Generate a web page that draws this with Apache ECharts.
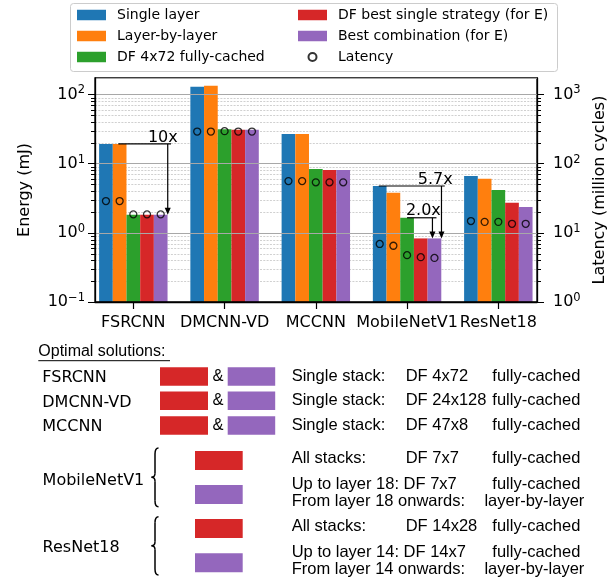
<!DOCTYPE html>
<html><head><meta charset="utf-8">
<script src="https://cdn.jsdelivr.net/npm/echarts@6/dist/echarts.min.js"></script>
<style>html,body{margin:0;padding:0;background:#fff}#c{width:616px;height:580px}</style>
</head><body><div id="c"></div>
<script>
// ---------------- data ----------------
const categories = ['FSRCNN', 'DMCNN-VD', 'MCCNN', 'MobileNetV1', 'ResNet18'];
const seriesNames = ['Single layer', 'Layer-by-layer', 'DF 4x72 fully-cached',
  'DF best single strategy (for E)', 'Best combination (for E)'];
const latencyName = 'Latency';
// Energy (mJ)
const energySingleLayer   = [19.3, 129, 26.9, 4.75, 6.63];
const energyLayerByLayer  = [19.3, 134, 26.9, 3.80, 6.07];
const energyDF4x72        = [1.83, 31.5, 8.4, 1.65, 4.16];
const energyDFBest        = [1.83, 30.8, 8.1, 0.83, 2.72];
const energyBestComb      = [1.83, 31.0, 8.1, 0.83, 2.36];
// Latency (million cycles)
const latencySingleLayer  = [28.8, 291, 56, 6.9, 14.8];
const latencyLayerByLayer = [28.8, 291, 56, 6.5, 14.4];
const latencyDF4x72       = [18.5, 295, 53.7, 4.75, 14.4];
const latencyDFBest       = [18.5, 291, 53.7, 4.45, 13.5];
const latencyBestComb     = [18.5, 291, 53.7, 4.34, 13.5];
// axes
const energyTicks = [0.1, 1, 10, 100];
const latencyTicks = [1, 10, 100, 1000];
const energyName = 'Energy (mJ)';
const latencyAxisName = 'Latency (million cycles)';
// annotations
const annotationLabels = ['10x', '5.7x', '2.0x'];
// optimal-solutions table
const tableTitle = 'Optimal solutions:';
const tableSimpleNames = ['FSRCNN', 'DMCNN-VD', 'MCCNN'];
const tableSimpleTiles = ['DF 4x72', 'DF 24x128', 'DF 47x8'];
const tableGroupNames = ['MobileNetV1', 'ResNet18'];
const tableGroupTiles = [['DF 7x7', 'DF 7x7'], ['DF 14x28', 'DF 14x7']];
const tableGroupLayer = ['18', '14'];

// ---------------- styling constants ----------------
const colors = ['#1f77b4', '#ff7f0e', '#2ca02c', '#d62728', '#9467bd'];
const FONT = 'DejaVu Sans';
const TFONT = 'Liberation Sans';
const TSIZE = 16.5;
const E_MIN = 0.1, E_MAX = 173, L_MIN = 1, L_MAX = 1730;
const GL = 95, GR = 537, GT = 78, GB = 302;
const BAR_W = 0.15;
const energy = [energySingleLayer, energyLayerByLayer, energyDF4x72, energyDFBest, energyBestComb];
const latency = [latencySingleLayer, latencyLayerByLayer, latencyDF4x72, latencyDFBest, latencyBestComb];

function powLabel(v) {
  const l = Math.log10(v), e = Math.round(l);
  if (Math.abs(l - e) > 1e-6) return '';
  return '{b|10}{s|' + (e < 0 ? '\u2212' + (-e) : e) + '}';
}
const labelRich = {
  b: { fontSize: 16, fontFamily: FONT, color: '#000', lineHeight: 20, verticalAlign: 'middle' },
  s: { fontSize: 11.5, fontFamily: FONT, color: '#000', lineHeight: 12, verticalAlign: 'top' }
};

const bandLeft = 87.7, bandWidth = 456.25;

const barSeries = seriesNames.map((name, j) => ({
  type: 'custom', name: name, xAxisIndex: 2, yAxisIndex: 2, z: 3,
  itemStyle: { color: colors[j] },
  encode: { x: 0, y: 1 },
  data: energy[j].map((v, i) => [i, v]),
  renderItem: function (params, api) {
    const i = api.value(0), v = api.value(1);
    const cx = i + (j - 2) * BAR_W;
    const p1 = api.coord([cx - BAR_W / 2, v]);
    const p2 = api.coord([cx + BAR_W / 2, E_MIN]);
    return { type: 'rect', shape: { x: p1[0], y: p1[1], width: p2[0] - p1[0], height: p2[1] - p1[1] },
      style: api.style() };
  }
}));

const scatterData = [];
latency.forEach((arr, j) => arr.forEach((v, i) => scatterData.push([i + (j - 2) * BAR_W, v])));

const legendText = { fontSize: 14, fontFamily: FONT, color: '#000',
  rich: { t: { fontSize: 14, fontFamily: FONT, color: '#000', padding: [0, 0, 0, 6] } } };
const smallCircleIcon = 'path://M0,0 M10.5,10.5 M1.25,5.25 A4,4 0 1 1 9.25,5.25 A4,4 0 1 1 1.25,5.25 Z';

const option = {
  animation: false,
  backgroundColor: '#fff',
  grid: [
    { left: GL, top: GT, width: GR - GL, height: GB - GT, show: true, borderColor: '#000', borderWidth: 1.3, backgroundColor: 'transparent', z: 8 },
    { left: bandLeft, top: GT, width: bandWidth, height: GB - GT }
  ],
  legend: [
    { orient: 'vertical', left: 77, top: 8, padding: 0, itemWidth: 29, itemHeight: 10.5, itemGap: 7,
      icon: 'rect', data: seriesNames.slice(0, 3), formatter: n => '{t|' + n + '}', textStyle: legendText, z: 20 },
    { orient: 'vertical', left: 298, top: 8, padding: 0, itemWidth: 29, itemHeight: 10.5, itemGap: 7,
      icon: 'rect', data: [seriesNames[3], seriesNames[4], { name: latencyName, icon: smallCircleIcon }],
      formatter: n => '{t|' + n + '}', textStyle: legendText, z: 20 }
  ],
  xAxis: [
    { gridIndex: 0, type: 'value', min: 0, max: 1, show: true, z: 10,
      axisLine: { show: true, lineStyle: { color: '#000', width: 1.3 } },
      axisTick: { show: false }, axisLabel: { show: false }, splitLine: { show: false } },
    { gridIndex: 1, type: 'category', data: categories, z: 10,
      axisLine: { show: false },
      axisTick: { show: true, alignWithLabel: true, length: 7, lineStyle: { color: '#000', width: 1.2 } },
      axisLabel: { interval: 0, margin: 13, fontSize: 16, fontFamily: FONT, color: '#000' },
      splitLine: { show: false } },
    { gridIndex: 1, type: 'value', min: -0.5, max: 4.5, show: false }
  ],
  yAxis: [
    { gridIndex: 0, type: 'log', min: E_MIN, max: E_MAX, position: 'left', z: 10,
      name: energyName, nameLocation: 'middle', nameGap: 62,
      nameTextStyle: { fontSize: 16, fontFamily: FONT, color: '#000' },
      axisLine: { show: true, lineStyle: { color: '#000', width: 1.3 } },
      axisTick: { show: true, length: 7, lineStyle: { color: '#000', width: 1 } },
      axisLabel: { margin: 10, formatter: powLabel, rich: labelRich, showMaxLabel: false },
      splitLine: { show: true, lineStyle: { color: '#a8a8a8', width: 1 } } },
    { gridIndex: 0, type: 'log', min: L_MIN, max: L_MAX, position: 'right', z: 10,
      name: latencyAxisName, nameLocation: 'middle', nameGap: 53,
      nameTextStyle: { fontSize: 16, fontFamily: FONT, color: '#000' },
      axisLine: { show: true, lineStyle: { color: '#000', width: 1.3 } },
      axisTick: { show: true, length: 7, lineStyle: { color: '#000', width: 1 } },
      axisLabel: { margin: 16, formatter: powLabel, rich: labelRich, showMaxLabel: false },
      splitLine: { show: false } },
    { gridIndex: 1, type: 'log', min: E_MIN, max: E_MAX, show: false },
    { gridIndex: 1, type: 'log', min: L_MIN, max: L_MAX, show: false }
  ],
  series: barSeries.concat([{
    type: 'scatter', name: latencyName, xAxisIndex: 2, yAxisIndex: 3, z: 5,
    symbol: 'circle', symbolSize: 7,
    itemStyle: { color: 'rgba(0,0,0,0)', borderColor: '#000', borderWidth: 1.3 },
    data: scatterData
  }])
};

const chart = echarts.init(document.getElementById('c'), null, { renderer: 'canvas' });
chart.setOption(option);

// ---------------- decorations computed through the axes ----------------
const yE = v => chart.convertToPixel({ yAxisIndex: 0 }, v);
const yL = v => chart.convertToPixel({ yAxisIndex: 1 }, v);
const xV = v => chart.convertToPixel({ xAxisIndex: 2 }, v);
const yEb = v => chart.convertToPixel({ yAxisIndex: 2 }, v);
const g = [];

function line(x1, y1, x2, y2, style, z) {
  g.push({ type: 'line', z: z || 10, silent: true, shape: { x1, y1, x2, y2 },
    style: Object.assign({ stroke: '#000', lineWidth: 1 }, style) });
}
function curve(x1, y1, cx1, cy1, cx2, cy2, x2, y2) {
  g.push({ type: 'bezierCurve', z: 10, silent: true,
    shape: { x1, y1, cpx1: cx1, cpy1: cy1, cpx2: cx2, cpy2: cy2, x2, y2 },
    style: { stroke: '#000', lineWidth: 1.5, fill: null } });
}
function text(x, y, t, font, size, align) {
  g.push({ type: 'text', z: 10, silent: true, x: x, y: y,
    style: { text: t, fontFamily: font, fontSize: size, fill: '#000',
      align: align || 'left', verticalAlign: 'middle' } });
}
function rect(x, y, w, h, fill) {
  g.push({ type: 'rect', z: 10, silent: true, shape: { x, y, width: w, height: h }, style: { fill } });
}

// minor gridlines + minor ticks
for (let d = -1; d <= 2; d++) {
  for (let k = 2; k <= 9; k++) {
    const v = k * Math.pow(10, d);
    if (v >= E_MAX) continue;
    const y = Math.round(yE(v)) + 0.5;
    line(GL, y, GR, y, { stroke: '#c4c4c4', lineWidth: 0.8, lineDash: [2, 1.3] }, 1);
    line(GL - 4, y, GL, y, { lineWidth: 1 }, 10);
  }
}
for (let d = 0; d <= 3; d++) {
  for (let k = 2; k <= 9; k++) {
    const v = k * Math.pow(10, d);
    if (v >= L_MAX) continue;
    const y = Math.round(yL(v)) + 0.5;
    line(GR, y, GR + 4, y, { lineWidth: 1 }, 10);
  }
}

// ratio annotations
const ann = [
  { cat: 0, from: energySingleLayer, to: energyBestComb, xs: -0.164, xe: 0.413, xa: 0.377, xt: 0.487 },
  { cat: 3, from: energySingleLayer, to: energyBestComb, xs: -0.31, xe: 0.413, xa: 0.377, xt: 0.50 },
  { cat: 3, from: energyDF4x72, to: energyBestComb, xs: 0.0, xe: 0.322, xa: 0.278, xt: 0.37 }
];
ann.forEach((a, k) => {
  const yl = yEb(a.from[a.cat]), yt = yEb(a.to[a.cat]);
  const x1 = xV(a.cat + a.xs), x2 = xV(a.cat + a.xe), xa = xV(a.cat + a.xa), xt = xV(a.cat + a.xt);
  line(x1, yl, x2, yl, { lineWidth: 1.2 }, 12);
  line(xa, yl, xa, yt - 5, { lineWidth: 1.2 }, 12);
  g.push({ type: 'polygon', z: 12, silent: true, shape: { points: [[xa - 3, yt - 7], [xa + 3, yt - 7], [xa, yt]] }, style: { fill: '#000' } });
  text(xt, yl - 6.5, annotationLabels[k], FONT, 16, 'right');
});

// legend frame
g.push({ type: 'rect', z: 0, silent: true, shape: { x: 70.5, y: 3.5, width: 487, height: 68, r: 3 },
  style: { fill: '#fff', stroke: '#cccccc', lineWidth: 1 } });

// ---------------- optimal solutions table ----------------
text(38.3, 352, tableTitle, TFONT, 16, 'left');
line(38.3, 360.7, 170, 360.7, { lineWidth: 1 });
const rowBase = [381.7, 406, 430.7];
tableSimpleNames.forEach((n, r) => {
  const b = rowBase[r];
  text(42.3, b - 3.5, n, FONT, 16, 'left');
  rect(160, b - 14.4, 48, 18.4, colors[3]);
  rect(227.7, b - 14.4, 47.5, 18.4, colors[4]);
  text(212.5, b - 5.5, '&', TFONT, TSIZE, 'left');
  text(291.7, b - 5.5, 'Single stack:', TFONT, TSIZE, 'left');
  text(405.7, b - 5.5, tableSimpleTiles[r], TFONT, TSIZE, 'left');
  text(492.3, b - 5.5, 'fully-cached', TFONT, TSIZE, 'left');
});
const grp = [
  { nameBase: 487, brace: [448, 506.7], rects: [451, 485], rows: [464, 490, 506.7] },
  { nameBase: 553.3, brace: [516.7, 575], rects: [519, 553.3], rows: [531.7, 558.3, 575] }
];
grp.forEach((gp, k) => {
  text(42.6, gp.nameBase - 5.8, tableGroupNames[k], FONT, 16, 'left');
  const t = gp.brace[0], bt = gp.brace[1], m = (t + bt) / 2;
  curve(158.5, t, 155.5, t, 155, t + 2, 155, t + 6);
  line(155, t + 6, 155, m - 4, { lineWidth: 1.5 });
  curve(155, m - 4, 155, m - 1, 153.5, m, 151.5, m);
  curve(151.5, m, 153.5, m, 155, m + 1, 155, m + 4);
  line(155, m + 4, 155, bt - 6, { lineWidth: 1.5 });
  curve(155, bt - 6, 155, bt - 2, 155.5, bt, 158.5, bt);
  rect(195, gp.rects[0], 47.7, 19, colors[3]);
  rect(195, gp.rects[1], 47.7, 19, colors[4]);
  text(291.7, gp.rows[0] - 5.5, 'All stacks:', TFONT, TSIZE, 'left');
  text(405.7, gp.rows[0] - 5.5, tableGroupTiles[k][0], TFONT, TSIZE, 'left');
  text(492.3, gp.rows[0] - 5.5, 'fully-cached', TFONT, TSIZE, 'left');
  text(291.7, gp.rows[1] - 5.5, 'Up to layer ' + tableGroupLayer[k] + ': ' + tableGroupTiles[k][1], TFONT, TSIZE, 'left');
  text(492.3, gp.rows[1] - 5.5, 'fully-cached', TFONT, TSIZE, 'left');
  text(291.7, gp.rows[2] - 5.5, 'From layer ' + tableGroupLayer[k] + ' onwards:', TFONT, TSIZE, 'left');
  text(484.4, gp.rows[2] - 5.5, 'layer-by-layer', TFONT, TSIZE, 'left');
});

chart.setOption({ graphic: { elements: g } });
</script>
</body></html>
